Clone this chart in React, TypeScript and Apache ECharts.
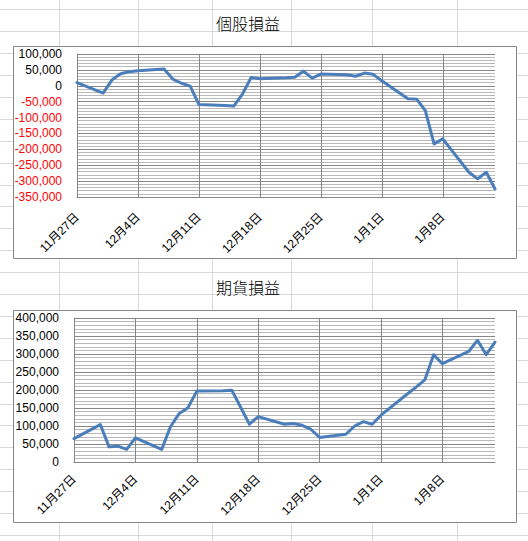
import React, { useEffect, useRef } from "react";
import * as echarts from "echarts";

// Trading dates (shared by both charts)
const dates = [
  "2015-11-27", "2015-11-30", "2015-12-01", "2015-12-02", "2015-12-03", "2015-12-04",
  "2015-12-07", "2015-12-08", "2015-12-09", "2015-12-10", "2015-12-11",
  "2015-12-14", "2015-12-15", "2015-12-16", "2015-12-17", "2015-12-18",
  "2015-12-21", "2015-12-22", "2015-12-23", "2015-12-24", "2015-12-25",
  "2015-12-28", "2015-12-29", "2015-12-30", "2015-12-31", "2016-01-01",
  "2016-01-04", "2016-01-05", "2016-01-06", "2016-01-07", "2016-01-08",
  "2016-01-11", "2016-01-12", "2016-01-13", "2016-01-14",
];

// 個股損益
const stockPL = [
  10000, -23000, 18000, 38000, 44000, 47000,
  53000, 21000, 8000, -1000, -59000,
  -62000, -64000, -26000, 26000, 22000,
  25000, 27000, 46000, 24000, 37000,
  35000, 30000, 40000, 36000, 16000,
  -41000, -42000, -78000, -183000, -167000,
  -272000, -293000, -272000, -325000,
];

// 期貨損益
const futuresPL = [
  65000, 104000, 42000, 44000, 35000, 67000,
  35000, 98000, 135000, 151000, 197000,
  198000, 199000, 152000, 105000, 126000,
  105000, 107000, 102000, 91000, 68000,
  77000, 100000, 112000, 105000, 130000,
  189000, 208000, 228000, 298000, 273000,
  307000, 338000, 298000, 333000,
];

const titles = ["個股損益", "期貨損益"];
const xRange = ["2015-11-27", "2016-01-14"];
const xStepDays = 7;
const stockYTicks = [-350000, -300000, -250000, -200000, -150000, -100000, -50000, 0, 50000, 100000];
const futuresYTicks = [0, 50000, 100000, 150000, 200000, 250000, 300000, 350000, 400000];

const DAY = 86400000;
const toMs = (s: string) => {
  const [y, m, d] = s.split("-").map(Number);
  return Date.UTC(y, m - 1, d);
};
const startMs = toMs(xRange[0]);
const dayIdx = (s: string) => Math.round((toMs(s) - startMs) / DAY);
const maxDay = dayIdx(xRange[1]);

const fmtDate = (v: number) => {
  const d = new Date(startMs + v * DAY);
  return `${d.getUTCMonth() + 1}月${d.getUTCDate()}日`;
};
const fmtNum = (v: number) => Number(v).toLocaleString("en-US");

const FONT = "'Liberation Sans','Noto Sans CJK TC','Noto Sans CJK JP',sans-serif";
const CJK = "'Noto Sans CJK TC','Noto Sans CJK JP',sans-serif";
const DARK = "#868686";
const MINOR = "#b9b9b9";
const LINE = "#4A7EBB";

export default function App() {
  const ref = useRef<HTMLDivElement>(null);
  useEffect(() => {
    if (!ref.current) return;
    const chart = echarts.init(ref.current, undefined, { renderer: "svg" });

    const bg: any[] = [];
    for (let k = 0; k < 25; k++) {
      const y = Math.round(9.3 + 21.9 * k) + 0.5;
      bg.push({ type: "line", z: -10, shape: { x1: 0, y1: y, x2: 528, y2: y }, style: { stroke: "#d9d9d9", lineWidth: 1 } });
    }
    [59, 138, 212, 291, 372, 457].forEach((x) => {
      bg.push({ type: "line", z: -10, shape: { x1: x + 0.5, y1: 0, x2: x + 0.5, y2: 541 }, style: { stroke: "#d9d9d9", lineWidth: 1 } });
    });
    const boxes = [46, 310].map((y) => ({
      type: "rect", z: -5,
      shape: { x: 13.5, y: y + 0.5, width: 503, height: 212 },
      style: { fill: "#ffffff", stroke: DARK, lineWidth: 1 },
    }));
    const titleEls = [22.5, 287].map((y, i) => ({
      type: "text", z: -4, x: 248, y,
      style: { text: titles[i], fill: "#000", font: `300 16px ${CJK}`, textAlign: "center", textVerticalAlign: "middle" },
    }));

    const xAxisBase = (gridIndex: number, margin: number) => ({
      type: "value", gridIndex, min: 0, max: maxDay, interval: xStepDays,
      axisLine: { show: true, onZero: false, lineStyle: { color: DARK, width: 1 } },
      axisTick: { show: false },
      splitLine: { show: true, showMaxLine: false, lineStyle: { color: DARK, width: 1 } },
      axisLabel: {
        rotate: 45, margin, fontSize: 12, fontFamily: FONT, color: "#000",
        showMaxLabel: false,
        formatter: (v: number) => (v >= maxDay ? "" : fmtDate(v)),
      },
    });
    const yAxisBase = (gridIndex: number, ticks: number[], redNeg: boolean) => ({
      type: "value", gridIndex,
      min: ticks[0], max: ticks[ticks.length - 1], interval: ticks[1] - ticks[0],
      axisLine: { show: true, lineStyle: { color: DARK, width: 1 } },
      axisTick: { show: false },
      splitLine: { show: true, lineStyle: { color: DARK, width: 1 } },
      minorTick: { show: false, splitNumber: 5 },
      minorSplitLine: { show: true, lineStyle: { color: MINOR, width: 1 } },
      axisLabel: {
        margin: 15, fontSize: 12, fontFamily: FONT,
        color: (v: any) => (redNeg && Number(v) < 0 ? "#FF0000" : "#000000"),
        formatter: (v: number) => fmtNum(v),
      },
    });

    chart.setOption({
      animation: false,
      backgroundColor: "#ffffff",
      graphic: [...bg, ...boxes, ...titleEls],
      grid: [
        { left: 77, top: 54, width: 418, height: 143 },
        { left: 74, top: 318, width: 421, height: 144 },
      ],
      xAxis: [xAxisBase(0, 18), xAxisBase(1, 15)],
      yAxis: [yAxisBase(0, stockYTicks, true), yAxisBase(1, futuresYTicks, false)],
      series: [
        {
          type: "line", xAxisIndex: 0, yAxisIndex: 0, showSymbol: false, z: 5,
          lineStyle: { color: LINE, width: 3, join: "round", cap: "round" },
          data: dates.map((d, i) => [dayIdx(d), stockPL[i]]),
        },
        {
          type: "line", xAxisIndex: 1, yAxisIndex: 1, showSymbol: false, z: 5,
          lineStyle: { color: LINE, width: 3, join: "round", cap: "round" },
          data: dates.map((d, i) => [dayIdx(d), futuresPL[i]]),
        },
      ],
    });
    return () => chart.dispose();
  }, []);
  return (
    <div
      ref={ref}
      style={{ position: "absolute", left: 0, top: 0, width: 528, height: 541 }}
    />
  );
}
